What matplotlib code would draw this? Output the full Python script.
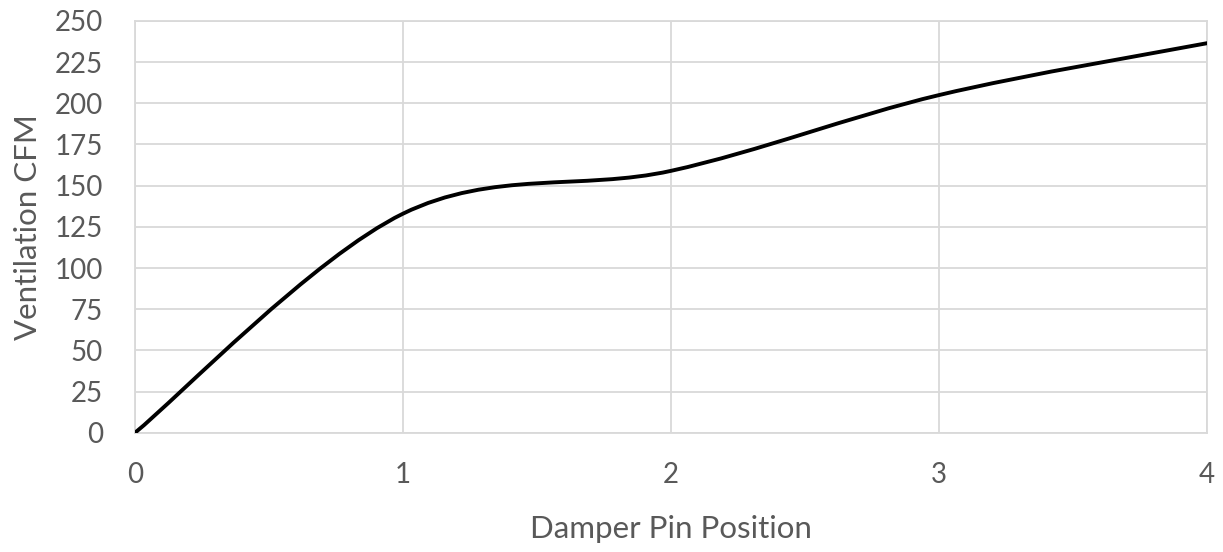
import matplotlib
matplotlib.use("Agg")
import matplotlib.pyplot as plt
from matplotlib.path import Path
from matplotlib.patches import PathPatch

# Measured ventilation at each damper pin position
pin_position = [0, 1, 2, 3, 4]
ventilation_cfm = [0, 133, 159, 205, 236.5]

x_ticks = [0, 1, 2, 3, 4]
y_ticks = [0, 25, 50, 75, 100, 125, 150, 175, 200, 225, 250]

TEXT_GREY = "#595959"
GRID_GREY = "#d9d9d9"
plt.rcParams["font.family"] = ["Lato", "DejaVu Sans"]

fig = plt.figure(figsize=(12.23, 5.52), dpi=100)
ax = fig.add_axes([0.1104, 0.2161, 0.8765, 0.7459])


def smoothed_path(xs, ys):
    """Cubic Bezier path through the points (spreadsheet-style smoothed line)."""
    n = len(xs)
    verts = [(xs[0], ys[0])]
    codes = [Path.MOVETO]
    for i in range(n - 1):
        x0, y0 = (xs[i - 1], ys[i - 1]) if i > 0 else (xs[i], ys[i])
        x1, y1 = xs[i], ys[i]
        x2, y2 = xs[i + 1], ys[i + 1]
        x3, y3 = (xs[i + 2], ys[i + 2]) if i + 2 < n else (x2, y2)
        c1 = (x1 + (x2 - x0) / 6.0, y1 + (y2 - y0) / 6.0)
        c2 = (x2 - (x3 - x1) / 6.0, y2 - (y3 - y1) / 6.0)
        verts += [c1, c2, (x2, y2)]
        codes += [Path.CURVE4, Path.CURVE4, Path.CURVE4]
    return Path(verts, codes)


curve = PathPatch(smoothed_path(pin_position, ventilation_cfm), facecolor="none",
                  edgecolor="black", linewidth=2.8, capstyle="round",
                  joinstyle="round", zorder=3)
ax.add_patch(curve)

ax.set_xlim(0, 4)
ax.set_ylim(0, 250)
ax.set_xticks(x_ticks)
ax.set_yticks(y_ticks)
ax.grid(True, color=GRID_GREY, linewidth=1.3)
ax.set_axisbelow(True)
for s in ax.spines.values():
    s.set_color(GRID_GREY)
    s.set_linewidth(1.3)

ax.tick_params(axis="both", length=0, labelsize=20, labelcolor=TEXT_GREY)
ax.tick_params(axis="y", pad=23)
ax.tick_params(axis="x", pad=21)

ax.set_xlabel("Damper Pin Position", fontsize=22.5, color=TEXT_GREY)
ax.set_ylabel("Ventilation CFM", fontsize=22.5, color=TEXT_GREY)
ax.xaxis.set_label_coords(0.5, -0.2)
ax.yaxis.set_label_coords(-0.087, 0.5)

fig.savefig("out.png", dpi=100, facecolor="white")
